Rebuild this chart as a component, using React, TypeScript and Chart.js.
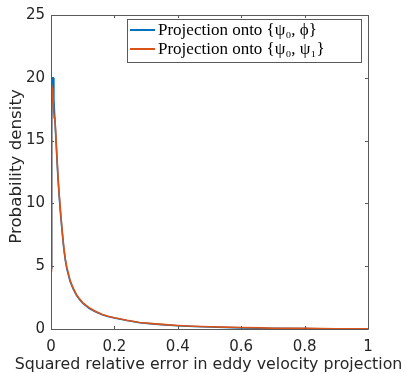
import React, { useEffect, useRef } from "react";
import { Chart, registerables } from "chart.js";

Chart.register(...registerables);

// Blue series: projection onto {psi0, phi}
const blueX = [0.0, 0.002, 0.004, 0.007, 0.009, 0.012, 0.015, 0.018, 0.022, 0.026, 0.03, 0.035, 0.04, 0.045, 0.05, 0.06, 0.07, 0.08, 0.09, 0.1, 0.12, 0.14, 0.16, 0.18, 0.2, 0.24, 0.28, 0.32, 0.36, 0.4, 0.45, 0.5, 0.55, 0.6, 0.66, 0.7, 0.8, 0.85, 0.9, 1.0];
const blueY = [4.8, 16.0, 20.0, 20.0, 18.3, 16.8, 15.4, 13.9, 12.0, 10.5, 9.2, 7.8, 6.5, 5.5, 4.8, 3.8, 3.2, 2.7, 2.35, 2.05, 1.65, 1.38, 1.15, 1.0, 0.87, 0.67, 0.5, 0.41, 0.33, 0.26, 0.2, 0.16, 0.12, 0.09, 0.06, 0.05, 0.04, 0.02, 0.02, 0.01];

// Orange series: projection onto {psi0, psi1}
const orangeX = [0.0, 0.001, 0.002, 0.004, 0.005, 0.006, 0.008, 0.01, 0.012, 0.015, 0.018, 0.022, 0.026, 0.03, 0.035, 0.04, 0.045, 0.05, 0.06, 0.07, 0.08, 0.09, 0.1, 0.12, 0.14, 0.16, 0.18, 0.2, 0.24, 0.28, 0.32, 0.36, 0.4, 0.45, 0.5, 0.55, 0.6, 0.67, 0.7, 0.8, 0.85, 0.9, 1.0];
const orangeY = [4.6, 12.0, 19.5, 19.0, 18.0, 19.2, 17.5, 16.8, 16.9, 15.6, 14.1, 12.2, 10.7, 9.4, 7.9, 6.6, 5.6, 4.9, 3.9, 3.25, 2.75, 2.4, 2.1, 1.7, 1.42, 1.18, 1.02, 0.9, 0.69, 0.52, 0.43, 0.35, 0.28, 0.22, 0.18, 0.15, 0.12, 0.09, 0.06, 0.05, 0.03, 0.02, 0.01];

const xTicks = [0, 0.2, 0.4, 0.6, 0.8, 1];
const yTicks = [0, 5, 10, 15, 20, 25];
const seriesLabels = ["Projection onto {ψ₀, ϕ}", "Projection onto {ψ₀, ψ₁}"];
const xTitle = "Squared relative error in eddy velocity projection";
const yTitle = "Probability density";
const colors = ["#0072BD", "#D95319"];

const toPts = (xs: number[], ys: number[]) => xs.map((x, i) => ({ x, y: ys[i] }));

const boxPlugin = {
  id: "matlabBox",
  afterDatasetsDraw(chart: any) {
    const { ctx, chartArea: a, scales } = chart;
    ctx.save();
    ctx.strokeStyle = "#5a5a5a";
    ctx.lineWidth = 1;
    ctx.beginPath();
    ctx.rect(Math.round(a.left) + 0.5, Math.round(a.top) + 0.5, Math.round(a.right - a.left), Math.round(a.bottom - a.top));
    ctx.stroke();
    const tl = 3;
    ctx.beginPath();
    xTicks.forEach((t) => {
      const px = Math.round(scales.x.getPixelForValue(t)) + 0.5;
      ctx.moveTo(px, a.bottom);
      ctx.lineTo(px, a.bottom - tl);
      ctx.moveTo(px, a.top);
      ctx.lineTo(px, a.top + tl);
    });
    yTicks.forEach((t) => {
      const py = Math.round(scales.y.getPixelForValue(t)) + 0.5;
      ctx.moveTo(a.left, py);
      ctx.lineTo(a.left + tl, py);
      ctx.moveTo(a.right, py);
      ctx.lineTo(a.right - tl, py);
    });
    ctx.stroke();

    // axis titles
    ctx.fillStyle = "#262626";
    ctx.textAlign = "center";
    ctx.textBaseline = "alphabetic";
    ctx.font = "15.8px 'DejaVu Sans', sans-serif";
    ctx.fillText(xTitle, 208.5, 369);
    ctx.save();
    ctx.font = "16.7px 'DejaVu Sans', sans-serif";
    ctx.translate(21, 166.5);
    ctx.rotate(-Math.PI / 2);
    ctx.fillText(yTitle, 0, 0);
    ctx.restore();

    // legend
    const lx = 127.5, ly = 19.5, lw = 234, lh = 43;
    ctx.fillStyle = "#ffffff";
    ctx.fillRect(lx, ly, lw, lh);
    ctx.strokeStyle = "#5a5a5a";
    ctx.lineWidth = 1;
    ctx.strokeRect(lx, ly, lw, lh);
    ctx.font = "17px 'Liberation Serif', serif";
    ctx.textAlign = "left";
    ctx.textBaseline = "middle";
    seriesLabels.forEach((lab, i) => {
      const yy = 30 + i * 19;
      ctx.strokeStyle = colors[i];
      ctx.lineWidth = 2;
      ctx.beginPath();
      ctx.moveTo(130, yy);
      ctx.lineTo(155, yy);
      ctx.stroke();
      ctx.fillStyle = "#000000";
      ctx.fillText(lab, 158, yy + 1);
    });
    ctx.restore();
  },
};

export default function App() {
  const ref = useRef<HTMLCanvasElement | null>(null);
  useEffect(() => {
    document.body.style.margin = "0";
    const chart = new Chart(ref.current as HTMLCanvasElement, {
      type: "line",
      data: {
        datasets: [
          { label: seriesLabels[0], data: toPts(blueX, blueY), borderColor: colors[0], borderWidth: 1.6, pointRadius: 0, tension: 0, order: 1 },
          { label: seriesLabels[1], data: toPts(orangeX, orangeY), borderColor: colors[1], borderWidth: 1.6, pointRadius: 0, tension: 0, order: 0 },
        ],
      },
      options: {
        responsive: false,
        animation: false,
        layout: { padding: { top: 12, right: 38, left: 0, bottom: 0 } },
        plugins: { legend: { display: false }, tooltip: { enabled: false } },
        scales: {
          x: {
            type: "linear",
            min: 0,
            max: 1,
            afterBuildTicks: (s: any) => { s.ticks = xTicks.map((v) => ({ value: v })); },
            afterFit: (s: any) => { s.height = 44; },
            grid: { display: false, drawTicks: false },
            border: { display: false },
            ticks: { color: "#262626", font: { family: "'DejaVu Sans', sans-serif", size: 15 }, padding: 9, maxRotation: 0, callback: (v: any) => String(v) },
          },
          y: {
            type: "linear",
            min: 0,
            max: 25,
            afterBuildTicks: (s: any) => { s.ticks = yTicks.map((v) => ({ value: v })); },
            afterFit: (s: any) => { s.width = 51; },
            grid: { display: false, drawTicks: false },
            border: { display: false },
            ticks: { color: "#262626", font: { family: "'DejaVu Sans', sans-serif", size: 15 }, padding: 6, callback: (v: any) => String(v) },
          },
        },
      },
      plugins: [boxPlugin],
    });
    return () => chart.destroy();
  }, []);
  return (
    <div style={{ width: 406, height: 373 }}>
      <canvas ref={ref} width={406} height={373} />
    </div>
  );
}
